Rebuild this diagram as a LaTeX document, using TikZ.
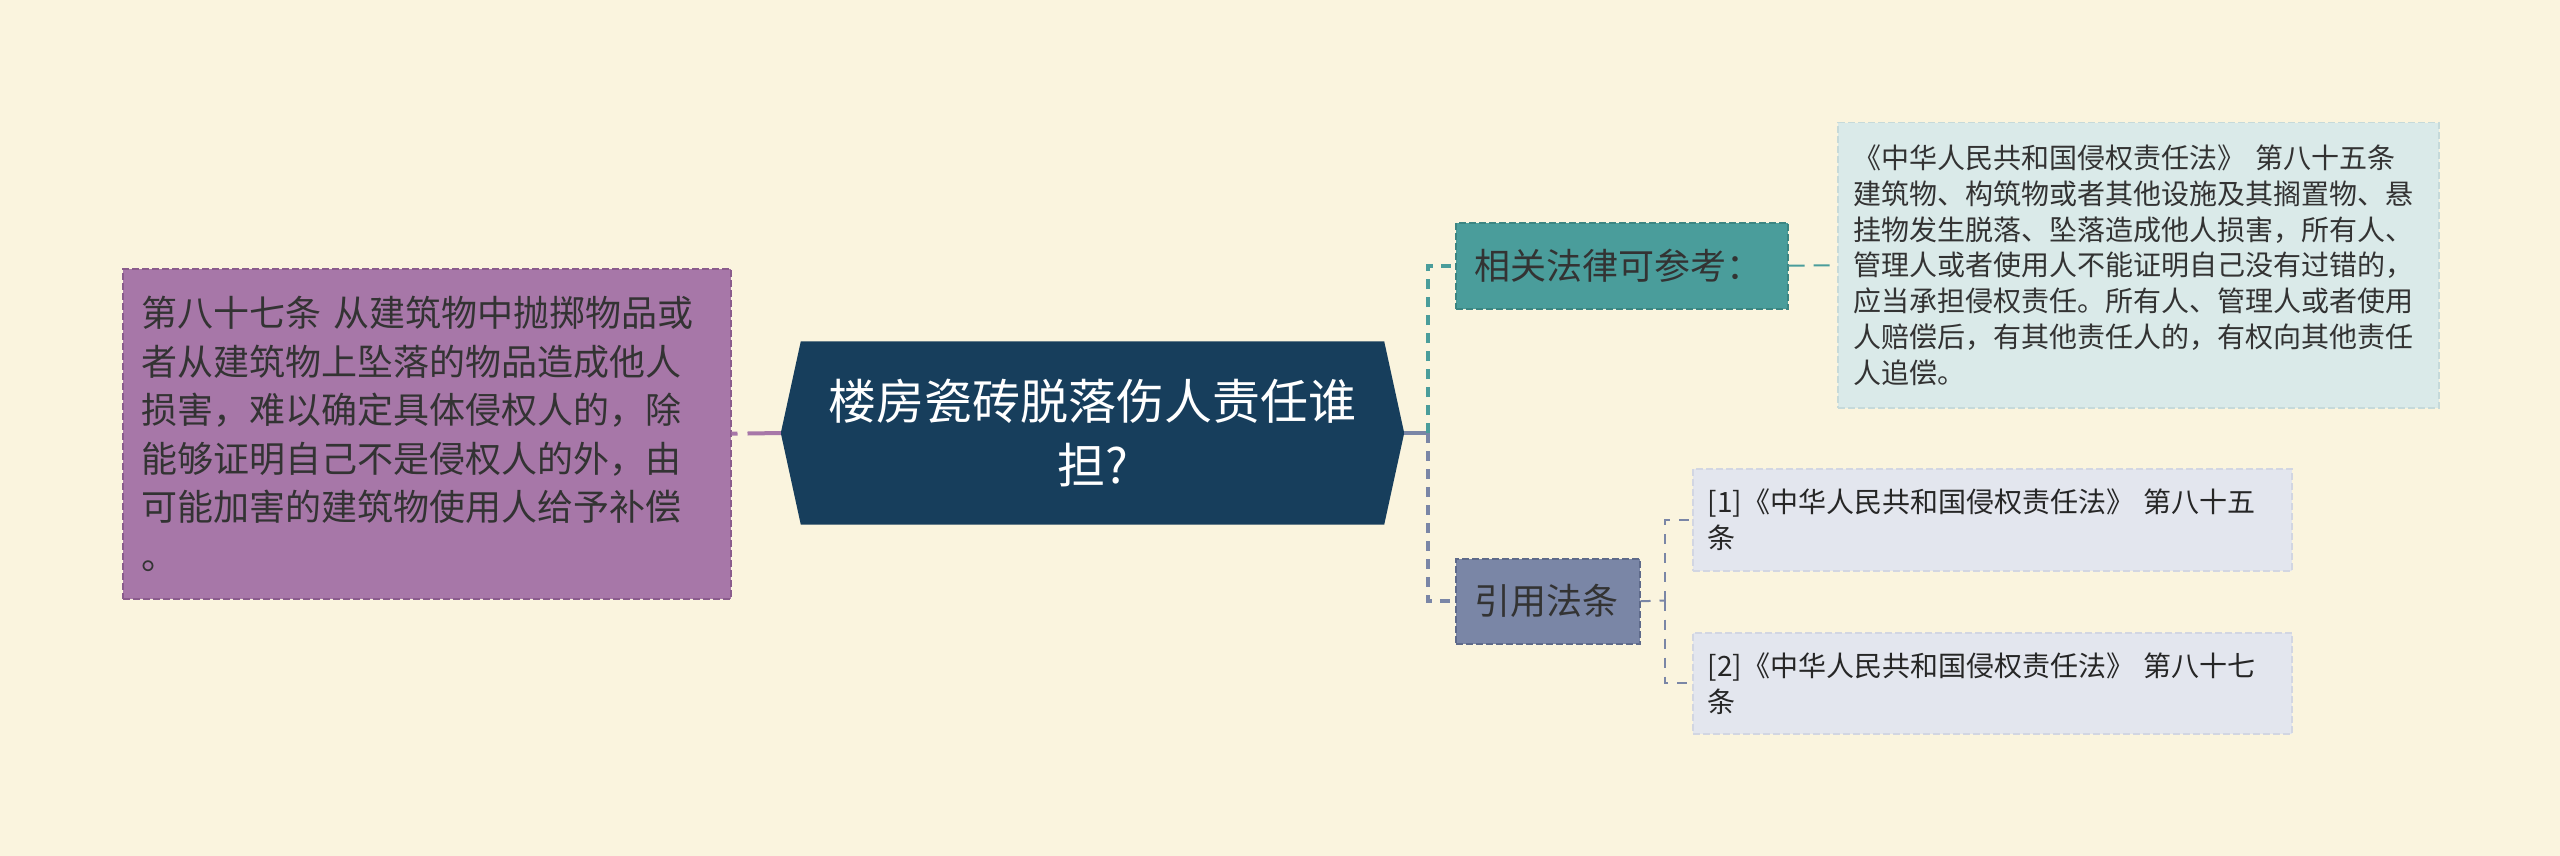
\documentclass[tikz,border=0pt]{standalone}
\usepackage{fontspec}
\setmainfont{Noto Sans CJK SC}
\usetikzlibrary{calc}
\definecolor{bgc}{HTML}{FAF4DE}
\definecolor{purp}{HTML}{A777A8}
\definecolor{purpd}{HTML}{8A5C8C}
\definecolor{navy}{HTML}{173E5C}
\definecolor{tealc}{HTML}{4A9D9B}
\definecolor{teald}{HTML}{3B8582}
\definecolor{slatec}{HTML}{7A86A6}
\definecolor{slated}{HTML}{5E6A8A}
\definecolor{lblue}{HTML}{DAEAE9}
\definecolor{lblued}{HTML}{C6DADA}
\definecolor{citec}{HTML}{E3E6EE}
\definecolor{cited}{HTML}{D2D6E2}
\definecolor{txt}{HTML}{333333}
\pgfdeclarelayer{bg}
\pgfsetlayers{bg,main}
\begin{document}
\begin{tikzpicture}[x=1pt,y=-1pt,
  box/.style={draw, dash pattern=on 7pt off 3pt, line width=1.5pt, inner ysep=0pt,
    align=left, text=txt, anchor=north west},
  bigfont/.style={font=\fontsize{36pt}{48.5pt}\selectfont},
  smallfont/.style={font=\fontsize{28pt}{36pt}\selectfont},
  trunkline/.style={line width=4pt, dash pattern=on 10pt off 8pt},
  thinline/.style={line width=2pt, dash pattern=on 10pt off 9pt}]
\useasboundingbox (0,0) rectangle (2560,856);

% left box
\node[box, bigfont, fill=purp, draw=purpd, text width=570pt, inner xsep=19pt,
  minimum height=330pt] (law87) at (122,268)
  {第八十七条 从建筑物中抛掷物品或\\者从建筑物上坠落的物品造成他人\\损害，难以确定具体侵权人的，除\\能够证明自己不是侵权人的外，由\\可能加害的建筑物使用人给予补偿\\。};

% central hexagon
\node[font=\fontsize{48pt}{64pt}\selectfont, text=white, align=center,
  minimum width=583pt, minimum height=183pt, inner sep=0pt] (hex) at (1092.5,433)
  {楼房瓷砖脱落伤人责任谁\\担?};
\coordinate (hexL) at ($(hex.west)+(-20,0)$);
\coordinate (hexR) at ($(hex.east)+(20,0)$);

% right level 1
\node[box, bigfont, fill=tealc, draw=teald, text width=294pt, inner xsep=19pt,
  minimum height=86pt] (rel) at (1455,222) {相关法律可参考：};
\node[box, bigfont, fill=slatec, draw=slated, text width=146pt, inner xsep=19pt,
  minimum height=85pt] (cite) at (1455,558) {引用法条};

% right level 2
\node[box, smallfont, fill=lblue, draw=lblued, text width=569pt, inner xsep=16pt,
  minimum height=285pt, font=\fontsize{28pt}{35.8pt}\selectfont] (art85) at (1837,122)
  {《中华人民共和国侵权责任法》 第八十五条\\建筑物、构筑物或者其他设施及其搁置物、悬\\挂物发生脱落、坠落造成他人损害，所有人、\\管理人或者使用人不能证明自己没有过错的，\\应当承担侵权责任。所有人、管理人或者使用\\人赔偿后，有其他责任人的，有权向其他责任\\人追偿。};
\node[box, smallfont, fill=citec, draw=cited, text width=569pt, inner xsep=15pt,
  minimum height=102pt, text=black!85] (c1) at (1692,468)
  {[1]《中华人民共和国侵权责任法》 第八十五\\条};
\node[box, smallfont, fill=citec, draw=cited, text width=569pt, inner xsep=15pt,
  minimum height=101pt, text=black!85] (c2) at (1692,632)
  {[2]《中华人民共和国侵权责任法》 第八十七\\条};

\begin{pgfonlayer}{bg}
  \fill[bgc] (0,0) rectangle (2560,856);
  \fill[navy] (hex.north west) -- (hex.north east) -- (hexR) -- (hex.south east)
    -- (hex.south west) -- (hexL) -- cycle;
\end{pgfonlayer}

% connectors
\coordinate (trunk) at (1428,433);
\coordinate (j2) at (1665,600.5);
\draw[purp, line width=4pt, dash pattern=on 36pt off 10pt, dash phase=30pt] (law87.east) -- (hexL);
\draw[slatec, line width=4pt] (hexR) -- (trunk);
\draw[tealc, trunkline] (trunk) |- (rel.west);
\draw[slatec, trunkline] (trunk) |- (cite.west);
\draw[tealc, line width=2pt, dash pattern=on 16pt off 9pt] (rel.east) -- (art85.west);
\draw[slatec, thinline] (cite.east) -- (j2);
\draw[slatec, thinline] (j2) |- (c1.west);
\draw[slatec, thinline] (j2) |- (c2.west);
\end{tikzpicture}
\end{document}
